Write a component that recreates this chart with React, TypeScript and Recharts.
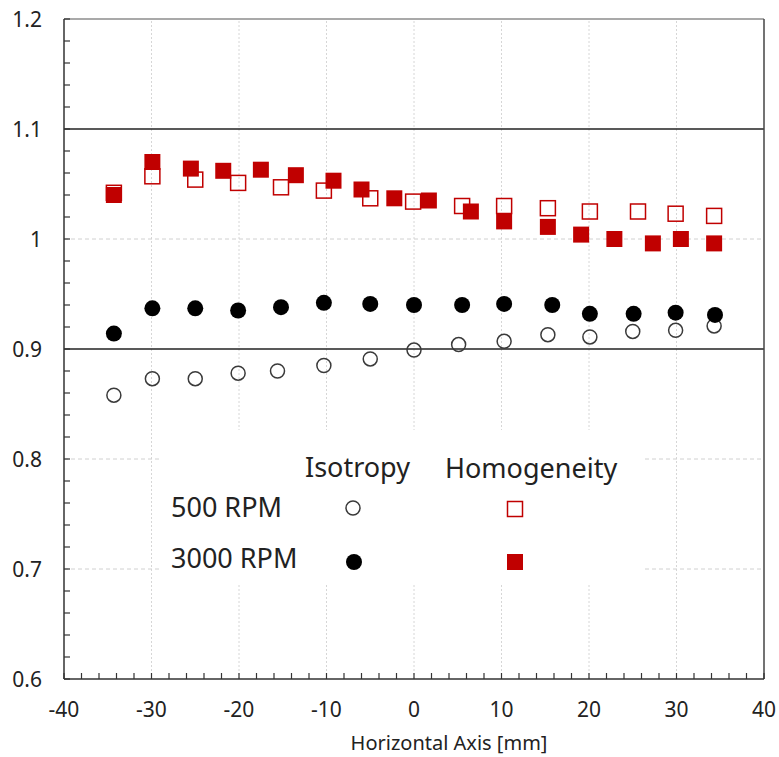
import { ScatterChart, Scatter, XAxis, YAxis, ReferenceLine, Legend } from "recharts";

// horizontal position [mm] and value for each series
const iso500X = [-34.3, -29.9, -25.0, -20.1, -15.6, -10.3, -5.0, 0, 5.1, 10.3, 15.3, 20.1, 25.0, 29.9, 34.3];
const iso500Y = [0.858, 0.873, 0.873, 0.878, 0.880, 0.885, 0.891, 0.899, 0.904, 0.907, 0.913, 0.911, 0.916, 0.917, 0.921];

const iso3000X = [-34.3, -29.9, -25.0, -20.1, -15.2, -10.3, -5.0, 0, 5.5, 10.3, 15.8, 20.1, 25.1, 29.9, 34.4];
const iso3000Y = [0.914, 0.937, 0.937, 0.935, 0.938, 0.942, 0.941, 0.940, 0.940, 0.941, 0.940, 0.932, 0.932, 0.933, 0.931];

const hom500X = [-34.3, -29.9, -25.0, -20.1, -15.2, -10.3, -5.0, -0.1, 5.5, 10.3, 15.3, 20.1, 25.6, 29.9, 34.3];
const hom500Y = [1.042, 1.057, 1.054, 1.051, 1.047, 1.044, 1.037, 1.034, 1.030, 1.030, 1.028, 1.025, 1.025, 1.023, 1.021];

const hom3000X = [-34.3, -29.9, -25.5, -21.8, -17.5, -13.5, -9.2, -6.0, -2.25, 1.7, 6.5, 10.3, 15.3, 19.1, 22.9, 27.3, 30.5, 34.3];
const hom3000Y = [1.040, 1.070, 1.064, 1.062, 1.063, 1.058, 1.053, 1.045, 1.037, 1.035, 1.025, 1.016, 1.011, 1.004, 1.000, 0.996, 1.000, 0.996];

// axis ticks and grid
const xGrid = [-30, -20, -10, 0, 10, 20, 30];
const yGridDashed = [1.0, 0.8, 0.7];
const yGridSolid = [0.9, 1.1];

// minor ticks every 2 mm / 0.02, labels only on the major ones
const xTicks = Array.from({ length: 41 }, (_, i) => -40 + i * 2);
const yTicks = Array.from({ length: 31 }, (_, i) => Number((0.6 + i * 0.02).toFixed(2)));

const zip = (xs: number[], ys: number[]) => xs.map((x, i) => ({ x, y: ys[i] }));

const FONT = "'Noto Sans', sans-serif";
const TEXT = "#222";
const RED = "#c00000";

const OpenCircle = (p: any) => <circle cx={p.cx} cy={p.cy} r={7} fill="none" stroke="#3a3a3a" strokeWidth={1.5} />;
const FilledCircle = (p: any) => <circle cx={p.cx} cy={p.cy} r={8} fill="#000" />;
const OpenSquare = (p: any) => (
  <rect x={p.cx - 7.5} y={p.cy - 7.5} width={15} height={15} fill="none" stroke={RED} strokeWidth={1.5} />
);
const FilledSquare = (p: any) => <rect x={p.cx - 8} y={p.cy - 8} width={16} height={16} fill={RED} />;

const isMult = (v: number, step: number) => Math.abs(v / step - Math.round(v / step)) < 1e-6;

const YTick = (props: any) => {
  const { x, y, payload } = props;
  const v = payload.value;
  return (
    <g>
      <line x1={x} x2={x + 6} y1={y} y2={y} stroke="#333" strokeWidth={1.2} />
      {isMult(v, 0.1) && (
        <text x={x - 22} y={y} dy="0.36em" textAnchor="end" fontSize={21} fontFamily={FONT} fill={TEXT}>
          {String(Number(v.toFixed(1)))}
        </text>
      )}
    </g>
  );
};

const XTick = (props: any) => {
  const { x, y, payload } = props;
  const v = payload.value;
  return (
    <g>
      <line x1={x} x2={x} y1={y} y2={y - 6} stroke="#333" strokeWidth={1.2} />
      {isMult(v, 10) && (
        <text x={x} y={y + 38} textAnchor="middle" fontSize={21} fontFamily={FONT} fill={TEXT}>
          {v}
        </text>
      )}
    </g>
  );
};

const AxisTitle = (props: any) => {
  const { viewBox } = props;
  return (
    <text
      x={viewBox.x + viewBox.width / 2 + 35}
      y={viewBox.y + 71}
      textAnchor="middle"
      fontSize={20}
      fontFamily={FONT}
      fill={TEXT}
    >
      Horizontal Axis [mm]
    </text>
  );
};

const LegendBox = () => (
  <svg width={483} height={155} style={{ display: "block", background: "#fff" }}>
    <g fontFamily={FONT} fontSize={27} fill={TEXT}>
      <text x={145} y={47}>Isotropy</text>
      <text x={285} y={48}>Homogeneity</text>
      <text x={11} y={87}>500 RPM</text>
      <text x={11} y={138}>3000 RPM</text>
    </g>
    <OpenCircle cx={193} cy={78} />
    <FilledCircle cx={194} cy={132} />
    <OpenSquare cx={355} cy={79} />
    <FilledSquare cx={355} cy={132} />
  </svg>
);

export default function App() {
  return (
    <div style={{ width: 779, height: 757 }}>
      <style>{"body{margin:0}"}</style>
      <ScatterChart width={779} height={757} margin={{ top: 19, right: 15, bottom: 0, left: 8 }}>
        <XAxis
          type="number"
          dataKey="x"
          domain={[-40, 40]}
          ticks={xTicks}
          interval={0}
          tickSize={0}
          tickMargin={0}
          tick={<XTick />}
          height={78}
          axisLine={{ stroke: "#333", strokeWidth: 1.5 }}
          label={<AxisTitle />}
          allowDataOverflow
        />
        <YAxis
          type="number"
          dataKey="y"
          domain={[0.6, 1.2]}
          ticks={yTicks}
          interval={0}
          tickSize={0}
          tickMargin={0}
          tick={<YTick />}
          width={56}
          axisLine={{ stroke: "#333", strokeWidth: 1.5 }}
          allowDataOverflow
        />
        {xGrid.map((v) => (
          <ReferenceLine key={"gx" + v} x={v} stroke="#d6d6d6" strokeDasharray="2 2" />
        ))}
        {yGridDashed.map((v) => (
          <ReferenceLine key={"gy" + v} y={v} stroke="#d0d0d0" strokeDasharray="4 3" />
        ))}
        {yGridSolid.map((v) => (
          <ReferenceLine key={"sy" + v} y={v} stroke="#222" strokeWidth={1.5} />
        ))}
        <ReferenceLine y={1.2} stroke="#555" strokeWidth={1.2} />
        <ReferenceLine x={40} stroke="#444" strokeWidth={1.5} />
        <Legend
          layout="horizontal"
          verticalAlign="middle"
          align="center"
          width={483}
          height={155}
          wrapperStyle={{ left: 160, top: 430, width: 483, height: 155 }}
          content={<LegendBox />}
        />
        <Scatter name="Isotropy 500 RPM" data={zip(iso500X, iso500Y)} shape={OpenCircle} isAnimationActive={false} />
        <Scatter name="Isotropy 3000 RPM" data={zip(iso3000X, iso3000Y)} shape={FilledCircle} isAnimationActive={false} />
        <Scatter name="Homogeneity 500 RPM" data={zip(hom500X, hom500Y)} shape={OpenSquare} isAnimationActive={false} />
        <Scatter name="Homogeneity 3000 RPM" data={zip(hom3000X, hom3000Y)} shape={FilledSquare} isAnimationActive={false} />
      </ScatterChart>
    </div>
  );
}
